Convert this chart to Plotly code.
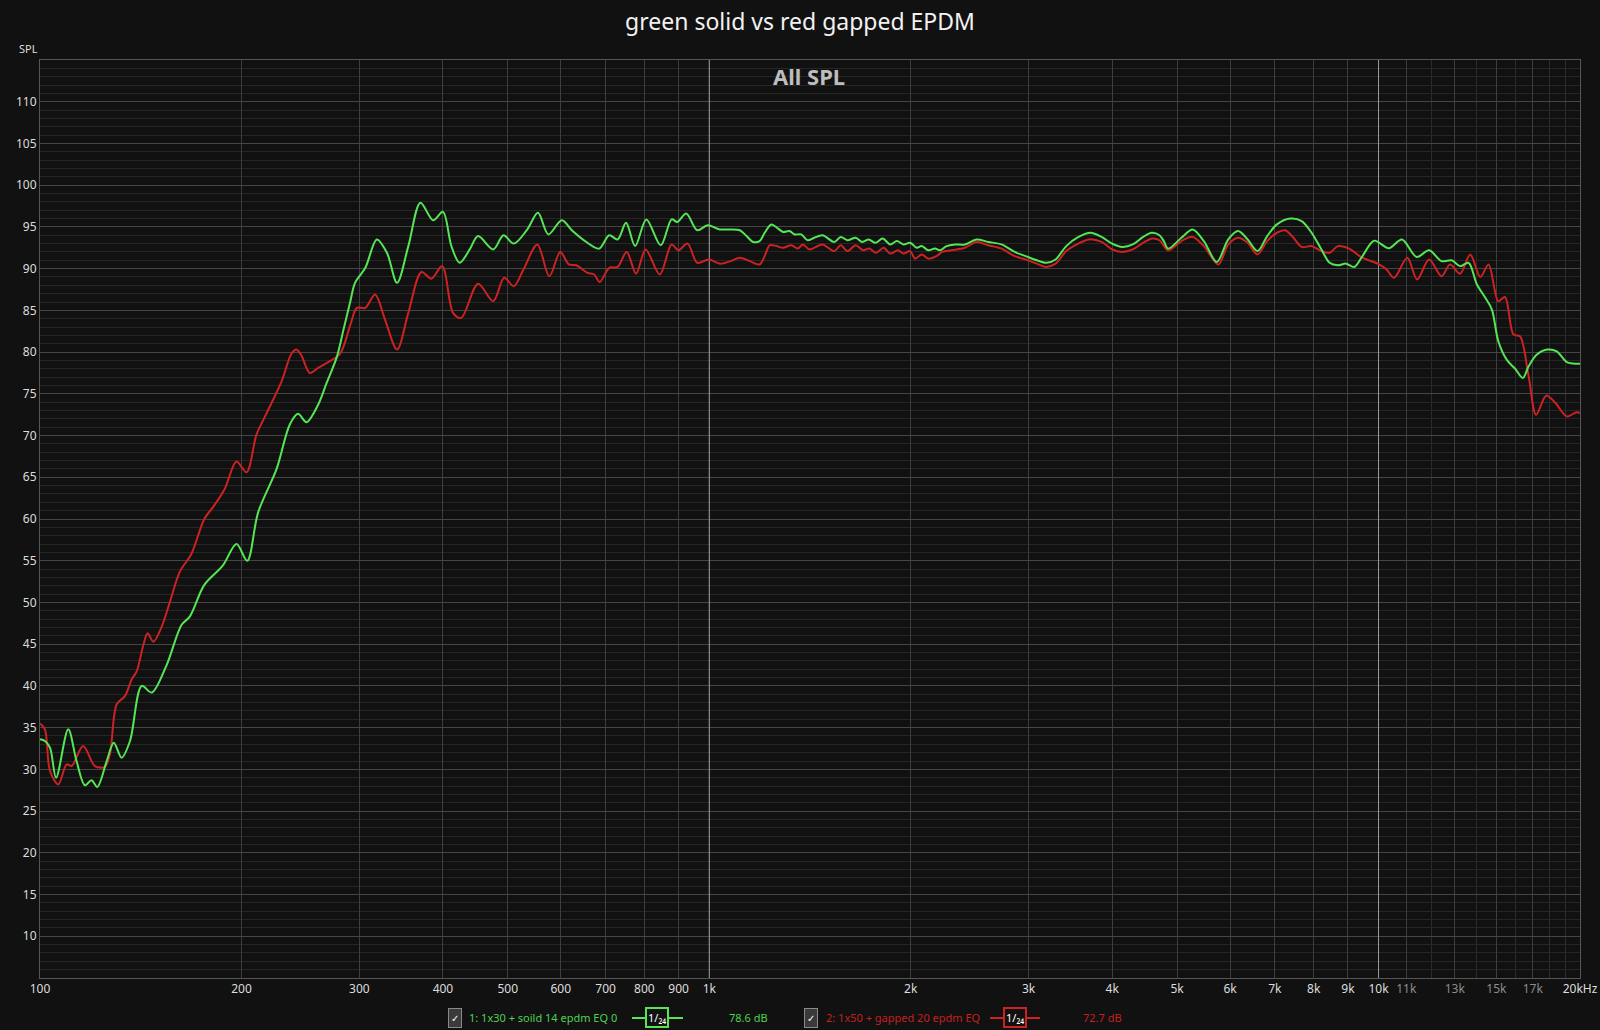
import plotly.graph_objects as go

# ---------------- data ----------------
green_freq = [100, 101.7, 103.5, 105.7, 110.2, 113.4, 116.7, 119.4, 121.8, 125.8, 128.9, 132.4, 136.3,
              141.9, 146.9, 154.6, 162.7, 167.4, 176.0, 187.5, 196.6, 204, 211.8, 225.7, 236.1, 243.0,
              250.1, 260.4, 268.1, 277.6, 284.3, 290.7, 295.6, 306.3, 318.6, 329.9, 341.6, 355.1, 370.2,
              386.7, 400, 411.8, 423.6, 438.6, 451.4, 475.5, 492.7, 510.4, 534.7, 554.7, 574.9, 602.1,
              624.9, 657.6, 684.5, 708.8, 729.6, 751.1, 774.9, 805.3, 846.3, 878.4, 895.9, 923.8, 959.5,
              994.3, 1036, 1076, 1111, 1137, 1163, 1189, 1210, 1238, 1267, 1289, 1318, 1341, 1372, 1403,
              1435, 1476, 1537, 1572, 1608, 1655, 1693, 1731, 1771, 1816, 1864, 1907, 1951, 1996, 2042,
              2077, 2125, 2174, 2211, 2262, 2328, 2410, 2508, 2611, 2733, 2860, 2970, 3085, 3191, 3292,
              3415, 3562, 3713, 3857, 3998, 4141, 4293, 4449, 4583, 4706, 4777, 4850, 5075, 5276, 5483,
              5733, 5963, 6167, 6375, 6594, 6818, 7049, 7377, 7676, 7942, 8216, 8452, 8693, 8943, 9200,
              9463, 9849, 10360, 10840, 11400, 11900, 12420, 12860, 13240, 13630, 14030, 14440, 14770,
              15100, 15540, 16000, 16430, 16760, 17240, 17850, 18460, 19110, 19770, 20000]
green_spl = [33.6, 33.4, 32.6, 29.0, 34.8, 31.0, 28.1, 28.7, 27.9, 31.0, 33.2, 31.4, 33.4,
             40.0, 39.2, 42.5, 47.3, 48.3, 52.1, 54.4, 57.0, 55.0, 60.8, 66.0, 71.3, 72.6,
             71.6, 73.7, 76.3, 79.4, 82.8, 86.0, 88.3, 90.1, 93.5, 91.9, 88.3, 92.7, 97.9,
             95.8, 96.8, 92.7, 90.7, 92.3, 93.9, 92.3, 94.0, 93.0, 94.7, 96.7, 94.1, 95.8,
             94.5, 93.1, 92.4, 94.0, 93.5, 95.5, 92.7, 95.9, 92.8, 95.9, 95.6, 96.6, 94.6,
             95.2, 94.7, 94.7, 94.6, 93.9, 93.2, 93.3, 94.3, 95.3, 94.8, 94.4, 94.5, 94.1, 94.1, 93.4,
             93.7, 94.0, 93.2, 93.8, 93.4, 93.7, 93.2, 93.5, 93.1, 93.6, 92.9, 93.3, 92.9, 93.1, 92.5,
             92.7, 92.2, 92.4, 92.2, 92.7, 92.9, 92.9, 93.5, 93.2, 92.9, 92.0, 91.5, 91.0, 90.7, 91.1,
             92.7, 93.8, 94.3, 93.8, 93.0, 92.6, 92.9, 93.8, 94.3, 94.0, 93.3, 92.4, 93.7, 94.7, 93.3,
             90.8, 93.5, 94.5, 93.5, 92.1, 93.9, 95.3, 96.0, 95.7, 94.3, 92.3, 90.7, 90.4, 90.6, 90.2,
             91.5, 93.35, 92.45, 93.5, 91.4, 92.2, 90.9, 91.0, 90.3, 90.7, 88.1, 86.5, 85.1,
             81.3, 79.1, 78.0, 76.9, 78.3, 79.7, 80.3, 80.1, 78.8, 78.6, 78.6]

red_freq = [100, 101.7, 103.5, 106.5, 109.6, 111.5, 116, 120.8, 125, 127.2, 130.2, 134.0, 137.1, 139.4,
            142.7, 144.8, 147.7, 152.0, 156.4, 161.8, 168.3, 176.0, 182.0, 188.8, 196.6, 203.5, 210.6,
            216.9, 229.6, 237.5, 241.6, 245.8, 253.0, 260.4, 269.6, 280.8, 290.7, 297.5, 306.3, 316.7,
            327.7, 341.6, 355.1, 371.5, 384.4, 399, 414.2, 426, 451.4, 475.5, 493.8, 510.4, 527.7,
            553.5, 576.8, 598.9, 616.9, 632.8, 657.6, 673, 686, 708.8, 729.6, 752.6, 777.5, 803.3,
            843.4, 878.4, 899.1, 928.1, 959.5, 998, 1038, 1076, 1111, 1150, 1189, 1210, 1231, 1260,
            1289, 1326, 1356, 1380, 1411, 1476, 1537, 1572, 1608, 1655, 1697, 1735, 1775, 1822, 1864,
            1914, 1951, 1996, 2030, 2077, 2125, 2185, 2229, 2301, 2410, 2508, 2611, 2733, 2860, 2970,
            3085, 3184, 3292, 3415, 3541, 3691, 3857, 3998, 4141, 4293, 4449, 4594, 4706, 4850, 5075,
            5276, 5483, 5763, 5963, 6167, 6375, 6594, 6818, 7049, 7253, 7462, 7676, 7942, 8216, 8452,
            8693, 9040, 9410, 10020, 10280, 10550, 11040, 11420, 11900, 12420, 12790, 13240, 13710,
            14190, 14600, 15100, 15450, 15910, 16270, 16760, 17200, 17810, 18380, 19110, 19770, 20000]
red_spl = [35.5, 34.8, 29.8, 28.2, 30.6, 30.4, 32.8, 30.4, 30.3, 31.8, 37.8, 38.8, 40.8, 41.7,
           44.9, 46.3, 45.3, 47.1, 50.1, 53.7, 55.8, 60.0, 61.6, 63.6, 66.9, 65.6, 70.1,
           72.3, 76.5, 79.8, 80.3, 79.6, 77.5, 78.1, 78.8, 79.8, 83.2, 85.3, 85.3, 86.9,
           83.9, 80.3, 84.7, 89.6, 88.8, 90.3, 84.7, 84.1, 88.2, 86.1, 88.9, 87.9, 89.9,
           92.9, 89.1, 92.0, 90.5, 90.4, 89.5, 89.3, 88.4, 90.1, 90.2, 92.0, 89.4, 92.3,
           89.3, 92.9, 92.2, 93.0, 90.7, 91.1, 90.6, 90.9, 91.3, 90.9, 90.5, 91.5, 92.8, 92.7,
           92.5, 92.8, 92.4, 92.9, 92.3, 92.9, 92.1, 92.8, 92.1, 92.8, 92.2, 92.4, 91.9, 92.5, 91.8,
           92.2, 91.8, 92.1, 91.2, 91.7, 91.2, 91.5, 92.0, 92.2, 92.5, 93.2, 92.8, 92.4, 91.5, 91.1,
           90.6, 90.2, 90.6, 92.1, 92.9, 93.5, 93.2, 92.3, 92.0, 92.3, 93.1, 93.6, 93.4, 92.2, 93.3,
           93.8, 92.7, 90.5, 92.9, 93.7, 93.1, 91.7, 93.3, 94.3, 94.6, 93.7, 92.6, 92.7, 92.1, 91.9,
           92.7, 92.4, 91.4, 90.5, 89.9, 88.9, 91.3, 88.7, 91.1, 89.1, 90.5, 89.4, 91.7,
           89.0, 90.5, 86.1, 86.6, 82.1, 81.9, 77.1, 72.5, 74.8, 73.9, 72.3, 72.8, 72.7]

x_tickvals = [100, 200, 300, 400, 500, 600, 700, 800, 900, 1000, 2000, 3000, 4000, 5000, 6000,
              7000, 8000, 9000, 10000, 11000, 13000, 15000, 17000, 20000]
x_ticktext = ["100", "200", "300", "400", "500", "600", "700", "800", "900", "1k", "2k", "3k", "4k",
              "5k", "6k", "7k", "8k", "9k", "10k", "<span style='color:#8c8c8c'>11k</span>",
              "<span style='color:#8c8c8c'>13k</span>", "<span style='color:#8c8c8c'>15k</span>",
              "<span style='color:#8c8c8c'>17k</span>", "20kHz"]
x_minor_vals = [12000, 14000, 16000, 18000, 19000]
y_tickvals = list(range(10, 115, 5))

title_text = "green solid vs red gapped EPDM"
green_label = "1: 1x30 + soild 14 epdm EQ 0"
red_label = "2: 1x50 + gapped 20 epdm EQ"
green_level = "78.6 dB"
red_level = "72.7 dB"
smoothing = "1/₂₄"

# ---------------- styling ----------------
BG = "#111111"
GREEN = "#55e655"
RED = "#cc2222"
GREEN_TXT = "#4fd24f"
RED_TXT = "#c42020"
FONT = "Noto Sans"

W, H = 1600, 1030
L, R, T, B = 40, 20, 60, 52
plot_w = W - L - R
plot_h = H - T - B


def px(x):
    return (x - L) / plot_w


def py(y):
    return (H - B - y) / plot_h


fig = go.Figure()

# bright decade grid lines
for dec in [1000, 10000]:
    fig.add_trace(go.Scatter(x=[dec, dec], y=[5, 115], mode="lines",
                             line=dict(color="#9a9a9a", width=1), hoverinfo="skip",
                             showlegend=False))

fig.add_trace(go.Scatter(x=red_freq, y=red_spl, mode="lines", line_shape="spline",
                         line=dict(color=RED, width=2, smoothing=0.9), hoverinfo="skip",
                         showlegend=False))
fig.add_trace(go.Scatter(x=green_freq, y=green_spl, mode="lines", line_shape="spline",
                         line=dict(color=GREEN, width=2, smoothing=0.9), hoverinfo="skip",
                         showlegend=False))

fig.update_layout(
    width=W, height=H,
    paper_bgcolor=BG, plot_bgcolor=BG,
    margin=dict(l=L, r=R, t=T, b=B, autoexpand=False),
    font=dict(family=FONT, color="#dddddd", size=12),
    title=dict(text=title_text, x=0.5, xref="container", xanchor="center",
               y=1 - 22 / H, yref="container", yanchor="middle",
               font=dict(size=23, color="#f2f2f2", family=FONT)),
    hovermode=False,
    showlegend=False,
)

fig.update_xaxes(
    type="log", range=[2, 4.30103], automargin=False,
    tickmode="array", tickvals=x_tickvals, ticktext=x_ticktext,
    tickfont=dict(size=12, color="#dddddd"),
    showgrid=True, gridcolor="#3e3e3e", gridwidth=1,
    minor=dict(tickmode="array", tickvals=x_minor_vals, showgrid=True, gridcolor="#2c2c2c",
               ticks=""),
    showline=True, linecolor="#555555", linewidth=1, mirror=True,
    ticks="", zeroline=False,
)
fig.update_yaxes(
    range=[5, 115], automargin=False,
    tickmode="array", tickvals=y_tickvals,
    tickfont=dict(size=12, color="#dddddd"),
    showgrid=True, gridcolor="#454545", gridwidth=1,
    minor=dict(dtick=1, tick0=0, showgrid=True, gridcolor="#262626", ticks=""),
    showline=True, linecolor="#555555", linewidth=1, mirror=True,
    ticks="", zeroline=False,
)


def note(text, x, y, xanchor="center", **kw):
    d = dict(text=text, x=px(x), y=py(y), xref="paper", yref="paper", showarrow=False,
             xanchor=xanchor, yanchor="middle")
    d.update(kw)
    return d


ann = []
ann.append(note("<b>All SPL</b>", 809, 76, font=dict(size=22, color="#bdbdbd", family=FONT)))
ann.append(note("SPL", 28, 49, font=dict(size=11, color="#dddddd", family=FONT)))

LEG_Y = 1018
shapes = []
for (cb_x, txt_x, label, tcol, lcol, l0, l1, box_x, lvl_x, lvl) in [
    (455, 467, green_label, GREEN_TXT, GREEN, 632, 683, 657, 748, green_level),
    (811, 824, red_label, RED_TXT, RED, 990, 1040, 1015, 1102, red_level),
]:
    ann.append(note("✓", cb_x, LEG_Y, font=dict(size=10, color="#ffffff"), bgcolor="#3a3a3a",
                    bordercolor="#8a8a8a", borderwidth=1, borderpad=2))
    ann.append(note(label, txt_x, LEG_Y, xanchor="left",
                    font=dict(size=11, color=tcol, family=FONT)))
    shapes.append(dict(type="line", xref="paper", yref="paper", x0=px(l0), x1=px(l1),
                       y0=py(LEG_Y), y1=py(LEG_Y), line=dict(color=lcol, width=2)))
    ann.append(note(smoothing, box_x, LEG_Y, font=dict(size=11, color="#ffffff", family=FONT),
                    bgcolor=BG, bordercolor=lcol, borderwidth=2, borderpad=1))
    ann.append(note(lvl, lvl_x, LEG_Y, font=dict(size=11, color=tcol, family=FONT)))

fig.update_layout(annotations=ann, shapes=shapes)

fig.write_html(
    "out.html",
    config={"displayModeBar": False},
    post_script="document.body.style.margin='0';document.body.style.background='#111111';"
                "document.documentElement.style.background='#111111';",
)
